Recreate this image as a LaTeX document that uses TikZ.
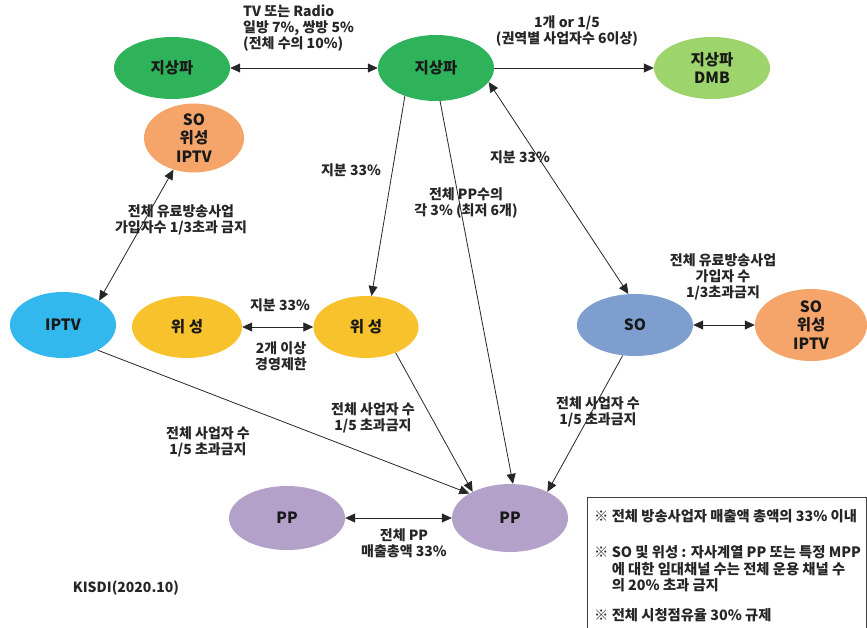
\documentclass[tikz,border=0pt]{standalone}
\usepackage{fontspec}
\setmainfont{Noto Sans CJK KR}
\usetikzlibrary{shapes.geometric,arrows.meta}
\definecolor{cgreen}{HTML}{2EB25A}
\definecolor{clgreen}{HTML}{9DD46B}
\definecolor{corange}{HTML}{F5A46A}
\definecolor{cblue}{HTML}{33B8EE}
\definecolor{cyellow}{HTML}{F8C22D}
\definecolor{cso}{HTML}{7D9ECF}
\definecolor{cpp}{HTML}{B3A1CA}
\tikzset{
  ell/.style={ellipse, draw=none, fill=#1, inner sep=0pt, align=center,
    font=\fontsize{15.5}{18.5}\selectfont\bfseries, text=black!90},
  lbl/.style={align=center, font=\fontsize{14}{16}\selectfont\bfseries, text=black!85, inner sep=0pt},
  conn/.style={draw=black!85, line width=0.8pt},
  tip/.style={-{Triangle[length=10pt,width=9pt]}},
  tips/.style={{Triangle[length=10pt,width=9pt]}-{Triangle[length=10pt,width=9pt]}},
}
\begin{document}
\begin{tikzpicture}[x=1pt,y=-1pt]
\useasboundingbox (0,0) rectangle (867,627);
% nodes
\node[ell=cgreen, minimum width=116, minimum height=62] (g1) at (172,68) {지상파};
\node[ell=cgreen, minimum width=116, minimum height=66] (g2) at (436,68) {지상파};
\node[ell=clgreen, minimum width=116, minimum height=62] (dmb) at (712,68) {지상파\\DMB};
\node[ell=corange, minimum width=100, minimum height=68] (so1) at (194,138) {SO\\위성\\IPTV};
\node[ell=cblue, minimum width=106, minimum height=66] (iptv) at (63,325) {IPTV};
\node[ell=cyellow, minimum width=110, minimum height=62] (s1) at (187,327) {위 성};
\node[ell=cyellow, minimum width=105, minimum height=62] (s2) at (366,327) {위 성};
\node[ell=cso, minimum width=116, minimum height=62] (so) at (635,325) {SO};
\node[ell=corange, minimum width=112, minimum height=72] (so2) at (811,325) {SO\\위성\\IPTV};
\node[ell=cpp, minimum width=116, minimum height=64] (pp1) at (287,518) {PP};
\node[ell=cpp, minimum width=116, minimum height=68] (pp2) at (510,518) {PP};
% connectors
\draw[conn,tips] (g1) -- (g2);
\draw[conn,tip] (g2) -- (dmb);
\draw[conn,tips] (so1.237) -- (iptv.34);
\draw[conn,tip] (g2.222) -- (s2.80);
\draw[conn,tip] (g2.277) -- (pp2.85);
\draw[conn,tips] (g2.345) -- (so.102);
\draw[conn,tips] (s1) -- (s2);
\draw[conn,tips] (so) -- (so2);
\draw[conn,tip] (iptv.324) -- (pp2.149);
\draw[conn,tip] (s2.319) -- (pp2.145);
\draw[conn,tip] (so.248) -- (pp2.35);
\draw[conn,tips] (pp1) -- (pp2);
% labels
\node[lbl, align=left, anchor=west] (l1) at (243,28) {TV 또는 Radio\\일방 7\%, 쌍방 5\%\\(전체 수의 10\%)};
\node[lbl] (l2) at (567,31) {1개 or 1/5\\(권역별 사업자수 6이상)};
\node[lbl] (l3) at (351,170) {지분 33\%};
\node[lbl] (l4) at (466,203) {전체 PP수의\\각 3\% (최저 6개)};
\node[lbl] (l5) at (520,157) {지분 33\%};
\node[lbl] (l6) at (181,220) {전체 유료방송사업\\가입자수 1/3초과 금지};
\node[lbl] (l7) at (723,277) {전체 유료방송사업\\가입자 수\\1/3초과금지};
\node[lbl] (l8) at (280,305) {지분 33\%};
\node[lbl] (l9) at (281,356) {2개 이상\\경영제한};
\node[lbl] (l10) at (208,442) {전체 사업자 수\\1/5 초과금지};
\node[lbl] (l11) at (373,418) {전체 사업자 수\\1/5 초과금지};
\node[lbl] (l12) at (598,412) {전체 사업자 수\\1/5 초과금지};
\node[lbl] (l13) at (404,543) {전체 PP\\매출총액 33\%};
\node[lbl] (l14) at (126,588) {KISDI(2020.10)};
% note box
\draw[draw=black!75, line width=0.8pt] (587,497) rectangle (866,628);
\node[lbl, align=left, anchor=north west, font=\fontsize{14.3}{16.5}\selectfont\bfseries] (box) at (594,509) {%
※ 전체 방송사업자 매출액 총액의 33\% 이내\\[20pt]
※ SO 및 위성 : 자사계열 PP 또는 특정 MPP\\
\hphantom{※ }에 대한 임대채널 수는 전체 운용 채널 수\\
\hphantom{※ }의 20\% 초과 금지\\[13pt]
※ 전체 시청점유율 30\% 규제};
\end{tikzpicture}
\end{document}
